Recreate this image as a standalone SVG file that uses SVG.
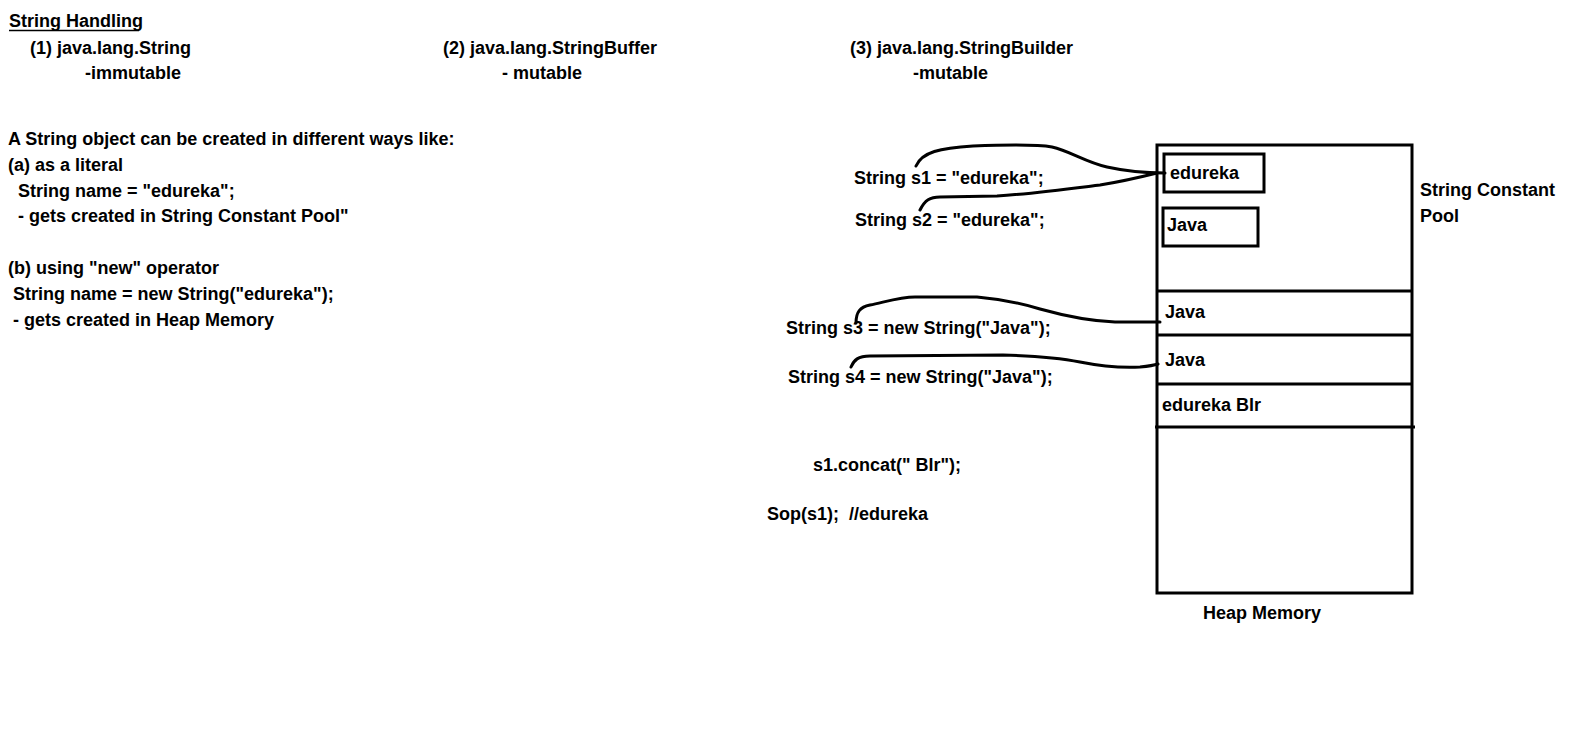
<svg xmlns="http://www.w3.org/2000/svg" width="1594" height="755" viewBox="0 0 1594 755">
<style>
text{font-family:"Liberation Sans",Arial,sans-serif;font-weight:bold;font-size:18px;fill:#000}
.ln{fill:none;stroke:#000;stroke-width:3;stroke-linecap:round;stroke-linejoin:round}
.box{fill:none;stroke:#000;stroke-width:3}
</style>
<rect width="1594" height="755" fill="#fff"/>
<g id="header">
<text x="9" y="27">String Handling</text>
<line x1="9" y1="30.5" x2="139" y2="30.5" stroke="#000" stroke-width="1.5"/>
<text x="30" y="54">(1) java.lang.String</text>
<text x="85" y="79">-immutable</text>
<text x="443" y="54">(2) java.lang.StringBuffer</text>
<text x="502" y="79">- mutable</text>
<text x="850" y="54">(3) java.lang.StringBuilder</text>
<text x="913" y="79">-mutable</text>
</g>
<g id="notes">
<text x="8" y="145">A String object can be created in different ways like:</text>
<text x="8" y="171">(a) as a literal</text>
<text x="18" y="197">String name = "edureka";</text>
<text x="18" y="222">- gets created in String Constant Pool"</text>
<text x="8" y="274">(b) using "new" operator</text>
<text x="13" y="300">String name = new String("edureka");</text>
<text x="13" y="326">- gets created in Heap Memory</text>
</g>
<g id="code">
<text x="854" y="184">String s1 = "edureka";</text>
<text x="855" y="226">String s2 = "edureka";</text>
<text x="786" y="334">String s3 = new String("Java");</text>
<text x="788" y="383">String s4 = new String("Java");</text>
<text x="813" y="471">s1.concat(" Blr");</text>
<text x="767" y="520" xml:space="preserve">Sop(s1);  //edureka</text>
</g>
<g id="heap">
<rect class="box" x="1157" y="145" width="255" height="448"/>
<line x1="1157" y1="291" x2="1412" y2="291" stroke="#000" stroke-width="3"/>
<line x1="1157" y1="335" x2="1412" y2="335" stroke="#000" stroke-width="3"/>
<line x1="1157" y1="384" x2="1412" y2="384" stroke="#000" stroke-width="3"/>
<line x1="1155" y1="427" x2="1415" y2="427" stroke="#000" stroke-width="3"/>
<text x="1165" y="318">Java</text>
<text x="1165" y="366">Java</text>
<text x="1162" y="411">edureka Blr</text>
<text x="1203" y="619">Heap Memory</text>
</g>
<g id="pool">
<rect class="box" x="1164" y="154" width="100" height="38"/>
<text x="1170" y="179">edureka</text>
<rect class="box" x="1163" y="208" width="95" height="38"/>
<text x="1167" y="231">Java</text>
<text x="1420" y="196">String Constant</text>
<text x="1420" y="222">Pool</text>
</g>
<g id="connectors">
<path class="ln" d="M916,166 C922,152 940,148 973,146 C1000,145 1035,144 1052,147 C1070,151 1085,162 1107,167 C1125,171 1145,173 1165,173"/>
<path class="ln" d="M920,210 C925,200 930,197 940,197 L997,196 C1030,194 1060,190 1100,185 C1125,181 1145,176 1157,173"/>
<path class="ln" d="M856,323 C856,312 860,307 870,305 C885,302 900,297 915,297 L977,297 C1000,299 1020,303 1040,309 C1065,316 1090,321 1115,322 L1160,322"/>
<path class="ln" d="M851,367 C854,360 858,356 870,356 L1003,355 C1040,356 1060,358 1080,362 C1100,366 1120,368 1140,367 C1150,366 1155,365 1158,364"/>
</g>
</svg>
